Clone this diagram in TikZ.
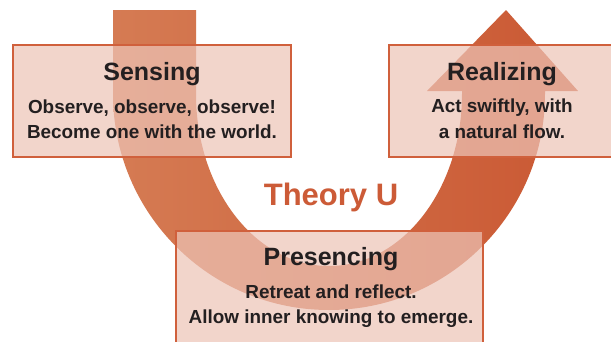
\documentclass[tikz,border=0pt]{standalone}
\usepackage{fontspec}
\setmainfont{Liberation Sans}
\definecolor{bandL}{HTML}{D57B53}
\definecolor{bandR}{HTML}{CA5833}
\definecolor{boxfill}{HTML}{EDC4B7}
\definecolor{boxline}{HTML}{D0603C}
\definecolor{ink}{HTML}{231F20}
\definecolor{titlecol}{HTML}{CC5B37}
\tikzset{
  panel/.style={draw=boxline, line width=2.5pt, fill=boxfill, fill opacity=0.71, draw opacity=1, inner sep=0pt, outer sep=0pt},
  head/.style={anchor=base, text=ink, font=\fontsize{25}{28}\selectfont\bfseries, inner sep=0pt},
  body/.style={anchor=base, text=ink, font=\fontsize{18.9}{21}\selectfont\bfseries, inner sep=0pt},
}
\begin{document}
\begin{tikzpicture}[x=1pt,y=-1pt]
\clip (0,0) rectangle (611,341);
\fill[white] (0,0) rectangle (611,341);
% U arrow
\shade[left color=bandL, right color=bandR]
  (113,10) -- (113,94) arc[start angle=180, end angle=0, radius=216]
  -- (545,91) -- (578,91) -- (506,10) -- (427,91) -- (462,91) -- (462,94)
  arc[start angle=0, end angle=180, x radius=133, y radius=172]
  -- (196,10) -- cycle;
% boxes
\node[panel, minimum width=278pt, minimum height=112pt] (sensing) at (152,101) {};
\node[panel, minimum width=231pt, minimum height=112pt] (realizing) at (504.5,101) {};
\node[panel, minimum width=307pt, minimum height=119pt] (presencing) at (329.5,290.5) {};
% texts
\node[head] (t1) at (152,80) {Sensing};
\node[body] (s1) at (152,113) {Observe, observe, observe!};
\node[body] (s2) at (152,138) {Become one with the world.};
\node[head] (t2) at (502,80) {Realizing};
\node[body] (r1) at (502,112) {Act swiftly, with};
\node[body] (r2) at (502,138) {a natural flow.};
\node[head] (t3) at (331,265) {Presencing};
\node[body] (p1) at (331,298) {Retreat and reflect.};
\node[body] (p2) at (331,323) {Allow inner knowing to emerge.};
\node[anchor=base, text=titlecol, font=\fontsize{31}{34}\selectfont\bfseries, inner sep=0pt] (theory) at (331,205) {Theory U};
\end{tikzpicture}
\end{document}
